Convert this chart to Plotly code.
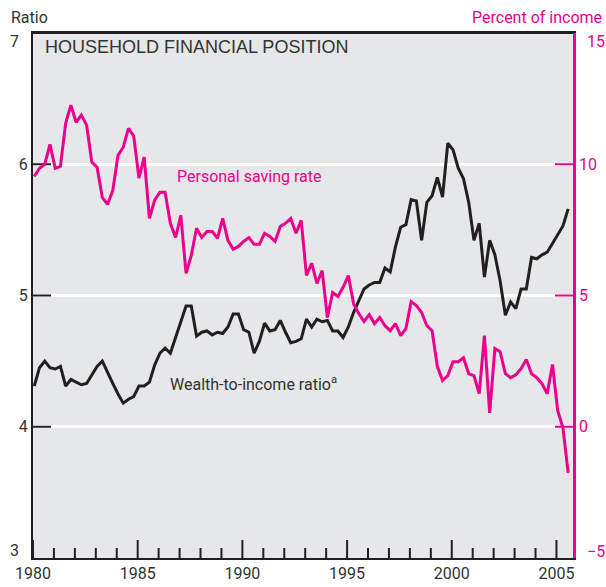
import numpy as np
import plotly.graph_objects as go

# Quarterly observations, 1980Q1 .. 2005Q3
quarters = 1980.06 + np.arange(103) / 4.0

wealth_to_income = [
    4.31, 4.45, 4.50, 4.45, 4.44, 4.46, 4.31, 4.36, 4.34, 4.32,
    4.33, 4.39, 4.46, 4.50, 4.41, 4.33, 4.25, 4.18, 4.21, 4.23,
    4.31, 4.31, 4.34, 4.47, 4.56, 4.60, 4.56, 4.68, 4.81, 4.92,
    4.92, 4.69, 4.72, 4.73, 4.70, 4.72, 4.71, 4.76, 4.86, 4.86,
    4.74, 4.72, 4.56, 4.65, 4.79, 4.73, 4.74, 4.81, 4.72, 4.64,
    4.65, 4.67, 4.82, 4.76, 4.82, 4.80, 4.81, 4.73, 4.73, 4.68,
    4.76, 4.87, 4.96, 5.05, 5.08, 5.10, 5.10, 5.21, 5.18, 5.37,
    5.52, 5.54, 5.73, 5.72, 5.42, 5.71, 5.76, 5.90, 5.75, 6.16,
    6.11, 5.97, 5.89, 5.71, 5.42, 5.55, 5.14, 5.42, 5.31, 5.11,
    4.85, 4.95, 4.90, 5.05, 5.05, 5.29, 5.28, 5.31, 5.33, 5.40,
    5.47, 5.53, 5.66,
]

saving_rate = [
    9.54, 9.85, 10.00, 10.76, 9.85, 9.92, 11.56, 12.25, 11.60, 11.87,
    11.49, 10.08, 9.89, 8.74, 8.47, 9.00, 10.34, 10.65, 11.37, 11.07,
    9.47, 10.27, 7.94, 8.63, 8.93, 8.93, 7.75, 7.21, 8.05, 5.84,
    6.53, 7.56, 7.21, 7.44, 7.44, 7.18, 7.94, 7.10, 6.76, 6.87,
    7.06, 7.21, 6.95, 6.95, 7.37, 7.25, 7.06, 7.63, 7.75, 7.94,
    7.37, 7.86, 5.77, 6.22, 5.46, 5.95, 4.16, 5.11, 4.96, 5.31,
    5.76, 4.69, 4.31, 4.01, 4.27, 3.93, 4.16, 3.85, 3.66, 3.93,
    3.47, 3.74, 4.77, 4.62, 4.35, 3.85, 3.66, 2.30, 1.76, 1.95,
    2.48, 2.48, 2.63, 2.02, 1.95, 1.26, 3.47, 0.53, 2.98, 2.86,
    2.02, 1.87, 1.98, 2.21, 2.56, 2.02, 1.87, 1.64, 1.26, 2.37,
    0.61, -0.04, -1.76,
]

year_ticks = [1980, 1985, 1990, 1995, 2000, 2005]
minor_years = [y for y in range(1981, 2006) if y not in year_ticks]
ratio_ticks = [3, 4, 5, 6, 7]
pct_ticks = [-5, 0, 5, 10, 15]

MAGENTA = "#ec008c"
DARK = "#231f20"
TEXT = "#333333"
BG = "#e6e7e8"
NARROW = "Roboto, Liberation Sans, sans-serif"
REG = "Liberation Sans, Arial, Helvetica, sans-serif"

W, H = 606, 587
M = dict(l=33, r=33, t=33, b=29)
X_RANGE = [1980, 2005.79]
Y_RANGE = [ratio_ticks[0], ratio_ticks[-1]]
Y2_RANGE = [pct_ticks[0], pct_ticks[-1]]

# pixel -> axis-unit conversion for the inside tick marks
px_x = (X_RANGE[1] - X_RANGE[0]) / (W - M["l"] - M["r"])
px_y = (Y_RANGE[1] - Y_RANGE[0]) / (H - M["t"] - M["b"])
px_y2 = (Y2_RANGE[1] - Y2_RANGE[0]) / (H - M["t"] - M["b"])
MAJOR, MINOR = 18, 10


def segs(pairs):
    xs, ys = [], []
    for (x0, y0, x1, y1) in pairs:
        xs += [x0, x1, None]
        ys += [y0, y1, None]
    return xs, ys


fig = go.Figure()

# tick marks and top frame line
mid_ratio = ratio_ticks[1:-1]
mid_pct = pct_ticks[1:-1]
tx, ty = segs([(yr, Y_RANGE[0], yr, Y_RANGE[0] + MAJOR * px_y) for yr in year_ticks]
              + [(yr, Y_RANGE[0], yr, Y_RANGE[0] + MINOR * px_y) for yr in minor_years]
              + [(X_RANGE[0], v, X_RANGE[0] + MAJOR * px_x, v) for v in mid_ratio]
              + [(X_RANGE[0], Y_RANGE[1], X_RANGE[1], Y_RANGE[1])])
fig.add_trace(go.Scatter(x=tx, y=ty, mode="lines", yaxis="y", cliponaxis=False,
                         line=dict(color=DARK, width=2), hoverinfo="skip",
                         showlegend=False))

fig.add_trace(go.Scatter(
    x=quarters, y=wealth_to_income, mode="lines", yaxis="y",
    line=dict(color=DARK, width=3), hoverinfo="skip", showlegend=False,
))

rx, ry = segs([(X_RANGE[1] - MAJOR * px_x, v, X_RANGE[1], v) for v in mid_pct])
fig.add_trace(go.Scatter(x=rx, y=ry, mode="lines", yaxis="y2", cliponaxis=False,
                         line=dict(color=MAGENTA, width=2), hoverinfo="skip",
                         showlegend=False))

fig.add_trace(go.Scatter(
    x=quarters, y=saving_rate, mode="lines", yaxis="y2",
    line=dict(color=MAGENTA, width=3), hoverinfo="skip", showlegend=False,
))

fig.update_layout(
    width=W, height=H, margin=M,
    paper_bgcolor="white", plot_bgcolor=BG,
    xaxis=dict(
        range=X_RANGE, tickmode="array", tickvals=year_ticks,
        ticktext=[str(v) for v in year_ticks], ticks="",
        showline=True, linecolor=DARK, linewidth=2, mirror=True,
        showgrid=False, zeroline=False, automargin=False,
        tickfont=dict(family=NARROW, size=16, color=TEXT),
    ),
    yaxis=dict(
        range=Y_RANGE, tickmode="array", tickvals=mid_ratio,
        ticktext=[str(v) for v in mid_ratio], ticks="",
        showline=True, linecolor=DARK, linewidth=2,
        showgrid=True, gridcolor="white", gridwidth=3, zeroline=False,
        automargin=False,
        tickfont=dict(family=NARROW, size=16, color=TEXT),
    ),
    yaxis2=dict(
        range=Y2_RANGE, overlaying="y", side="right",
        tickmode="array", tickvals=mid_pct,
        ticktext=[str(v) for v in mid_pct], ticks="",
        showline=True, linecolor=MAGENTA, linewidth=2.5,
        showgrid=False, zeroline=False, automargin=False,
        tickfont=dict(family=NARROW, size=16, color=MAGENTA),
    ),
)

ann = []
# end tick labels, nudged inward like the original
for v, shift in ((ratio_ticks[0], 8), (ratio_ticks[-1], -8)):
    ann.append(dict(xref="paper", x=0, yref="y", y=v, text=str(v),
                    xanchor="right", yanchor="middle", xshift=-12, yshift=shift,
                    showarrow=False, font=dict(family=NARROW, size=16, color=TEXT)))
for v, shift in ((pct_ticks[0], 7), (pct_ticks[-1], -8)):
    ann.append(dict(xref="paper", x=1, yref="y2", y=v,
                    text=("\u2212" + str(abs(v))) if v < 0 else str(v),
                    xanchor="left", yanchor="middle", xshift=12, yshift=shift,
                    showarrow=False, font=dict(family=NARROW, size=16, color=MAGENTA)))

ann += [
    dict(xref="paper", yref="paper", x=0, y=1, xanchor="left", yanchor="middle",
         xshift=-24, yshift=16, text="Ratio", showarrow=False,
         font=dict(family=NARROW, size=16, color=TEXT)),
    dict(xref="paper", yref="paper", x=1, y=1, xanchor="right", yanchor="middle",
         xshift=31, yshift=16, text="Percent of income", showarrow=False,
         font=dict(family=NARROW, size=16, color=MAGENTA)),
    dict(xref="paper", yref="paper", x=0, y=1, xanchor="left", yanchor="middle",
         xshift=10, yshift=-14, text="HOUSEHOLD FINANCIAL POSITION", showarrow=False,
         font=dict(family=REG, size=18, color=TEXT)),
    dict(xref="x", yref="y2", x=1986.76, y=9.55, xanchor="left", yanchor="middle",
         text="Personal saving rate", showarrow=False,
         font=dict(family=NARROW, size=16, color=MAGENTA)),
    dict(xref="x", yref="y", x=1986.43, y=4.33, xanchor="left", yanchor="middle",
         text="Wealth-to-income ratio<sup>a</sup>", showarrow=False,
         font=dict(family=NARROW, size=16, color=TEXT)),
]
fig.update_layout(annotations=ann)

fig.write_html(
    "out.html",
    config={"displayModeBar": False},
    post_script="document.body.style.margin='0';document.body.style.overflow='hidden';",
)
